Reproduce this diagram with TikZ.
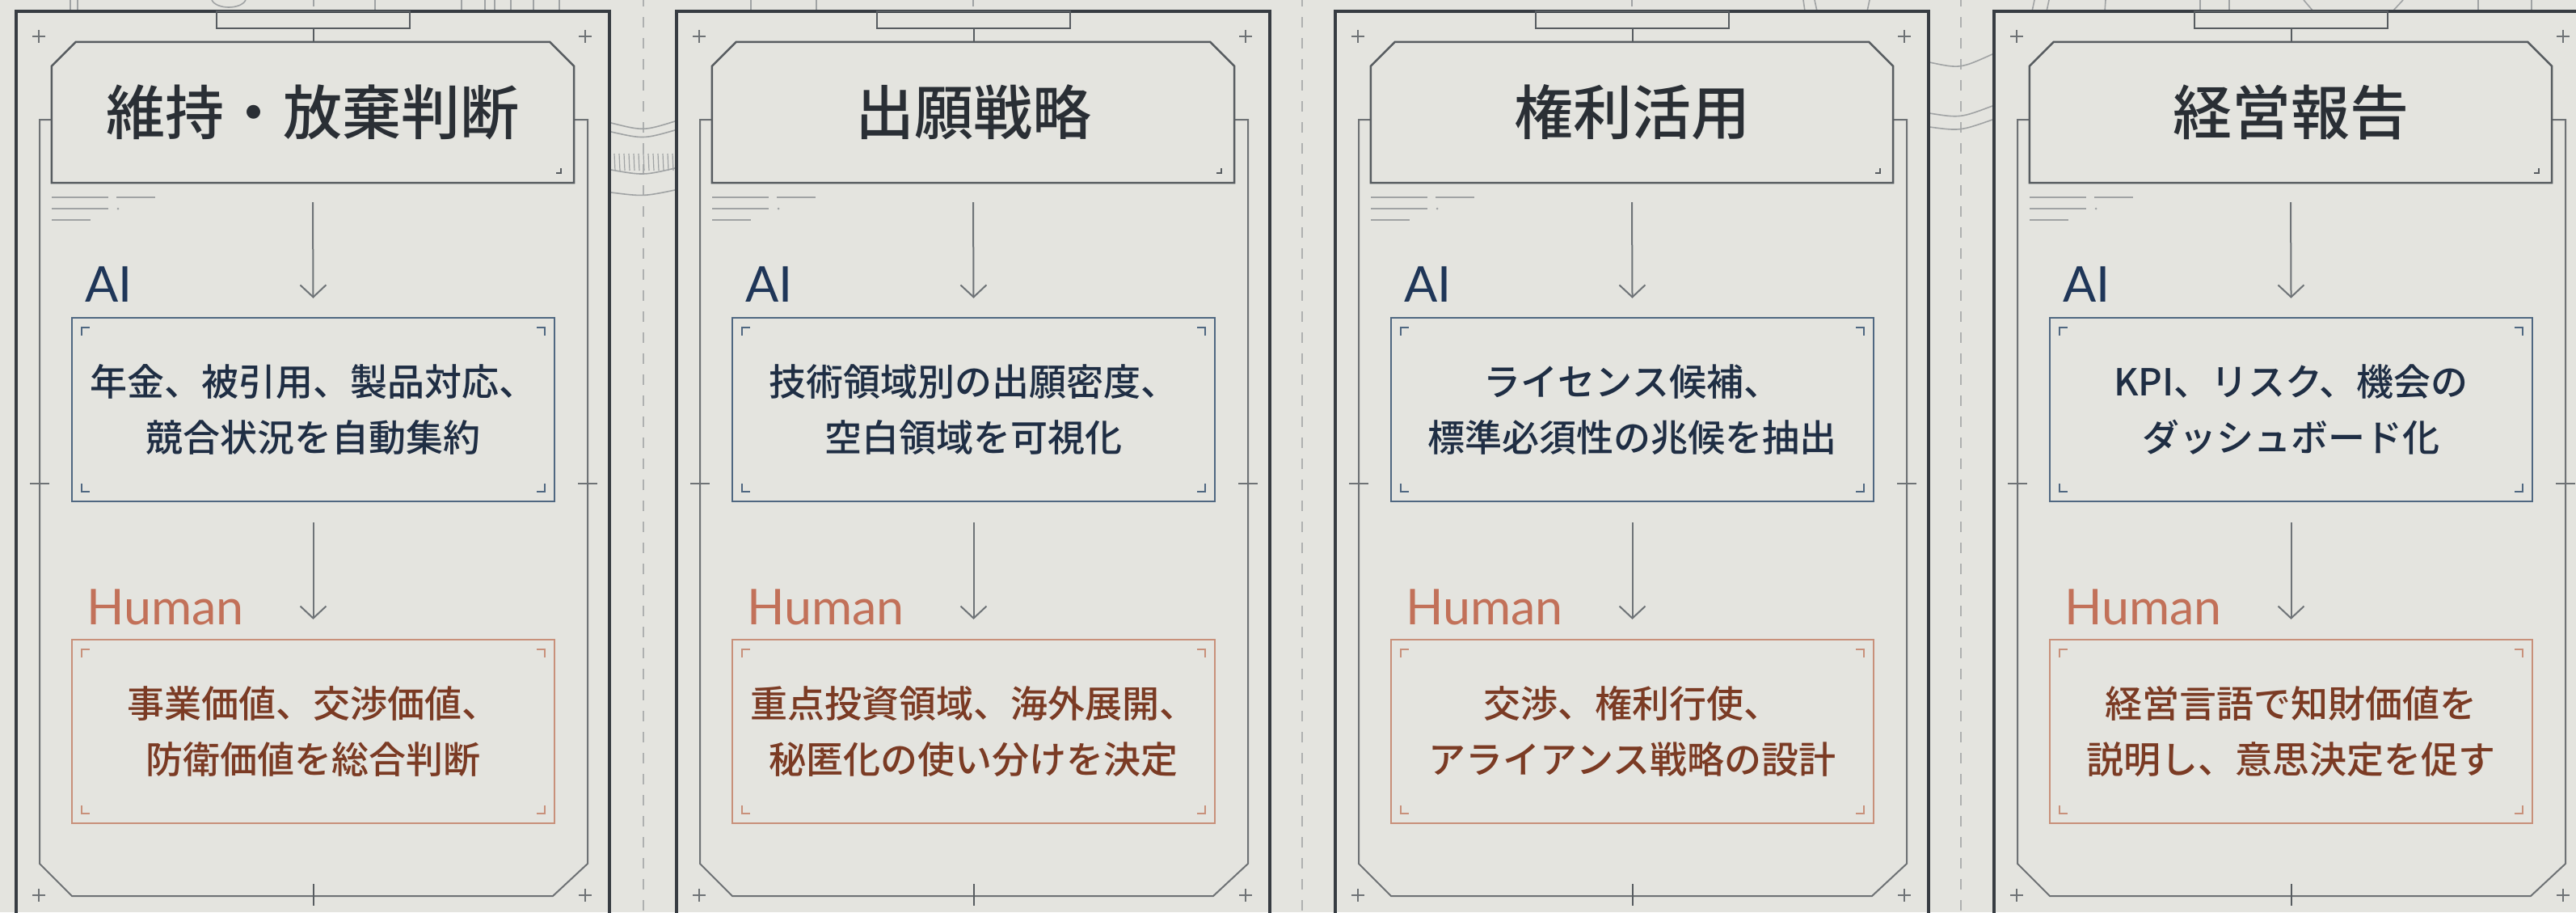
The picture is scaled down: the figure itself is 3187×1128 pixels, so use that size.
\documentclass[tikz,border=0pt]{standalone}
\usepackage{fontspec}
\usetikzlibrary{arrows.meta,calc}
\newfontfamily\jp{Noto Sans CJK JP}
\IfFontExistsTF{Noto Sans CJK JP Medium}{\newfontfamily\jpt{Noto Sans CJK JP Medium}}{\newfontfamily\jpt{Noto Sans CJK JP}}
\newfontfamily\lab{Lato}
\definecolor{bgc}{HTML}{E4E4DF}
\definecolor{framec}{HTML}{373C42}
\definecolor{headc}{HTML}{575C60}
\definecolor{innerc}{HTML}{6E7275}
\definecolor{aiedge}{HTML}{4F6781}
\definecolor{huedge}{HTML}{C8907A}
\definecolor{arrowc}{HTML}{6E7377}
\definecolor{titlec}{HTML}{2A2F35}
\definecolor{aitext}{HTML}{1F2E44}
\definecolor{ailab}{HTML}{1F3658}
\definecolor{hulab}{HTML}{C27159}
\definecolor{hutext}{HTML}{7B3B24}
\definecolor{decoc}{HTML}{A0A3A4}
\definecolor{dashc}{HTML}{AEB0B0}
\tikzset{
  frame/.style={draw=framec,line width=3.5pt},
  tabline/.style={draw=headc,line width=2.5pt},
  thinline/.style={draw=headc,line width=2pt},
  innerline/.style={draw=innerc,line width=2pt},
  headline/.style={draw=headc,line width=2.5pt},
  plusm/.style={draw=innerc,line width=1.8pt},
  phline/.style={draw=decoc,line width=2.5pt},
  arr/.style={draw=arrowc,line width=2pt,-{Straight Barb[length=15pt,width=32pt]}},
  headnode/.style={minimum width=646pt,minimum height=174pt,inner sep=0pt,text=titlec,font={\jpt\fontsize{73}{80}\selectfont}},
  aibox/.style={draw=aiedge,line width=2.5pt,minimum width=597pt,minimum height=227pt,inner sep=0pt,align=center,text=aitext,font={\jpt\fontsize{46}{69}\selectfont}},
  hubox/.style={draw=huedge,line width=2.2pt,minimum width=597pt,minimum height=227pt,inner sep=0pt,align=center,text=hutext,font={\jpt\fontsize{46}{69}\selectfont}},
  ailabel/.style={anchor=base west,inner sep=0pt,text=ailab,font={\lab\fontsize{61}{63}\selectfont}},
  hulabel/.style={anchor=base west,inner sep=0pt,text=hulab,font={\lab\fontsize{61}{63}\selectfont}},
  deco/.style={draw=decoc,line width=1.6pt},
  dashv/.style={draw=dashc,line width=2pt,dash pattern=on 13pt off 13pt},
}
\newcommand\brk[2]{%
  \draw[#2,line width=1.6pt] ([shift={(13pt,-23pt)}]#1.north west) -- ++(0pt,10pt) -- ++(10pt,0pt);
  \draw[#2,line width=1.6pt] ([shift={(-23pt,-13pt)}]#1.north east) -- ++(10pt,0pt) -- ++(0pt,-10pt);
  \draw[#2,line width=1.6pt] ([shift={(13pt,23pt)}]#1.south west) -- ++(0pt,-10pt) -- ++(10pt,0pt);
  \draw[#2,line width=1.6pt] ([shift={(-23pt,13pt)}]#1.south east) -- ++(10pt,0pt) -- ++(0pt,10pt);
}
\newcommand\plusat[2]{\draw[plusm] (#1-8,#2) -- (#1+8,#2) (#1,#2-8) -- (#1,#2+8);}
\newcommand\drawpanel[7]{%
\begin{scope}[xshift=#1pt]
  \draw[frame] (0,1140) -- (0,14) -- (734,14) -- (734,1140);
  \draw[tabline] (248,14) rectangle (487,35);
  \draw[thinline] (368,35) -- (368,52);
  \draw[innerline] (44,148) -- (29,148) -- (29,1068) -- (69,1108) -- (664,1108) -- (707,1068) -- (707,148) -- (690,148);
  \plusat{28}{45}\plusat{704}{45}\plusat{28}{1107}\plusat{704}{1107}
  \draw[plusm] (17,598) -- (41,598) (695,598) -- (719,598);
  \draw[thinline] (368,1093) -- (368,1120);
  \node[headnode] (head#2) at (367,139) {#3};
  \draw[headline] (head#2.south west) -- ([yshift=-30pt]head#2.north west) -- ([xshift=30pt]head#2.north west)
     -- ([xshift=-30pt]head#2.north east) -- ([yshift=-30pt]head#2.north east) -- (head#2.south east) -- cycle;
  \draw[draw=headc,line width=1.6pt] ([shift={(-22pt,12pt)}]head#2.south east) -- ++(6pt,0pt) -- ++(0pt,6pt);
  \draw[phline] (44,244) -- (114,244) (124,244) -- (172,244) (44,258) -- (114,258) (44,272) -- (92,272);
  \fill[decoc] (126,258) circle (1.5);
  \node[ailabel] (ailab#2) at (85,373) {AI};
  \node[aibox] (ai#2) at (367.5,506.5) {#4\\#5};
  \brk{ai#2}{aiedge}
  \node[hulabel] (hulab#2) at (87,772) {Human};
  \node[hubox] (hu#2) at (367.5,904.5) {#6\\#7};
  \brk{hu#2}{huedge}
  \draw[arr] ([yshift=-24pt]head#2.south) -- ([yshift=23pt]ai#2.north);
  \draw[arr] ([yshift=-25pt]ai#2.south) -- ([yshift=24pt]hu#2.north);
\end{scope}}
\begin{document}
\begin{tikzpicture}[x=1pt,y=-1pt]
\useasboundingbox (0,0) rectangle (3187,1128);
\fill[bgc] (0,0) rectangle (3187,1128);
\begin{scope}
\clip (0,0) rectangle (3187,1128);
% dashed separators
\draw[dashv] (796,-5) -- (796,1135);
\draw[dashv] (1611,-5) -- (1611,1135);
\draw[dashv] (2426,-5) -- (2426,1135);
% top background fragments
\draw[deco] (87,0) -- (87,14) (96,0) -- (96,14) (464,0) -- (464,14);
\draw[deco] (262,0) .. controls (268,12) and (298,12) .. (304,0);
\draw[deco] (571,0) -- (571,14) (600,0) -- (600,14) (612,0) -- (612,14) (632,0) -- (632,14) (660,0) -- (660,14) (692,0) -- (692,14);
\draw[deco] (929,0) -- (929,14) (1010,0) -- (1010,14) (388,0) -- (388,8) (1204,0) -- (1204,8) (2019,0) -- (2019,8);
\draw[deco] (2231,0) -- (2233,14) (2245,0) -- (2248,14) (2313,0) -- (2310,14);
\draw[deco] (2517,0) -- (2514,14) (2535,0) -- (2532,14) (2605,0) -- (2604,14);
\draw[deco] (2722,0) -- (2722,14) (2758,0) -- (2758,14);
\draw[deco] (2850,0) -- (2862,14) (2973,0) -- (2960,14);
\draw[deco] (3066,0) -- (3066,14) (3132,0) -- (3132,14);
% connector decoration between panel 1 and 2
\draw[deco] (756,152) .. controls (796,162) .. (835,150);
\draw[deco] (756,163) .. controls (796,172) .. (835,161);
\foreach \hx in {760,766,...,832} {\draw[draw=decoc,line width=1.2pt] (\hx,190) -- (\hx+1,211);}
\draw[deco] (756,210) .. controls (796,217) .. (835,208);
\draw[deco] (756,238) .. controls (796,243) .. (835,235);
% connector decoration between panel 3 and 4
\draw[deco] (2387,77) .. controls (2425,85) .. (2465,67);
\draw[deco] (2387,140) .. controls (2425,146) .. (2465,131);
\draw[deco] (2387,157) .. controls (2425,162) .. (2465,148);
% panels
\drawpanel{20}{a}{維持・放棄判断}{年金、被引用、製品対応、}{競合状況を自動集約}{事業価値、交渉価値、}{防衛価値を総合判断}
\drawpanel{837}{b}{出願戦略}{技術領域別の出願密度、}{空白領域を可視化}{重点投資領域、海外展開、}{秘匿化の使い分けを決定}
\drawpanel{1652}{c}{権利活用}{ライセンス候補、}{標準必須性の兆候を抽出}{交渉、権利行使、}{アライアンス戦略の設計}
\drawpanel{2467}{d}{経営報告}{KPI、リスク、機会の}{ダッシュボード化}{経営言語で知財価値を}{説明し、意思決定を促す}
\end{scope}
\end{tikzpicture}
\end{document}
